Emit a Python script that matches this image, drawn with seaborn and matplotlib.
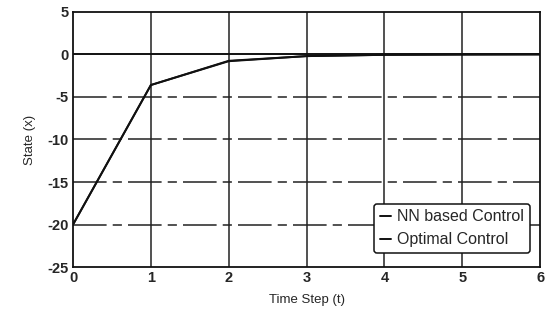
import matplotlib
matplotlib.use("Agg")
import matplotlib.pyplot as plt
import seaborn as sns
import pandas as pd

time_steps = [0, 1, 2, 3, 4, 5, 6]
nn_state = [-20, -3.6, -0.8, -0.2, -0.05, -0.02, 0.0]
optimal_state = [-20, -3.6, -0.75, -0.2, -0.05, -0.01, 0.0]
x_ticks = [0, 1, 2, 3, 4, 5, 6]
y_ticks = [5, 0, -5, -10, -15, -20, -25]

sns.set_style("white")
plt.rcParams['font.family'] = ['Liberation Sans', 'DejaVu Sans']
plt.rcParams['axes.unicode_minus'] = False

df = pd.concat([
    pd.DataFrame({"t": time_steps, "x": nn_state, "series": "NN based Control"}),
    pd.DataFrame({"t": time_steps, "x": optimal_state, "series": "Optimal Control"}),
])

fig = plt.figure(figsize=(5.45, 3.21), dpi=100)
ax = fig.add_axes([0.134, 0.168, 0.857, 0.795])

ax.axhline(0, color="#111111", lw=1.4, zorder=2)
for y in y_ticks[2:-1]:
    ax.axhline(y, color="#222222", lw=1.1, dashes=(22, 4, 6, 4), zorder=1)
for xv in x_ticks[1:-1]:
    ax.axvline(xv, color="#222222", lw=1.1, zorder=1)

sns.lineplot(data=df, x="t", y="x", hue="series",
             palette={"NN based Control": "#111111", "Optimal Control": "#111111"},
             linewidth=1.4, ax=ax, zorder=3)

ax.set_xlim(0, 6)
ax.set_ylim(-25, 5)
ax.set_xticks(x_ticks)
ax.set_yticks(y_ticks)
ax.tick_params(axis="both", labelsize=10.5, length=0, pad=3)
for lab in ax.get_xticklabels() + ax.get_yticklabels():
    lab.set_fontweight("bold")
ax.set_xlabel("Time Step (t)", fontsize=9.5, labelpad=6)
ax.set_ylabel("State (x)", fontsize=9.5, labelpad=8)
for s in ax.spines.values():
    s.set_color("#111111")
    s.set_linewidth(1.3)

leg = ax.legend(loc="lower right", fontsize=11.5, frameon=True, handlelength=0.7,
                handletextpad=0.4, borderpad=0.35, labelspacing=0.5,
                bbox_to_anchor=(0.995, 0.025), fancybox=True, framealpha=1)
leg.get_frame().set_edgecolor("#111111")
leg.get_frame().set_linewidth(1.1)

fig.savefig("out.png", dpi=100)
